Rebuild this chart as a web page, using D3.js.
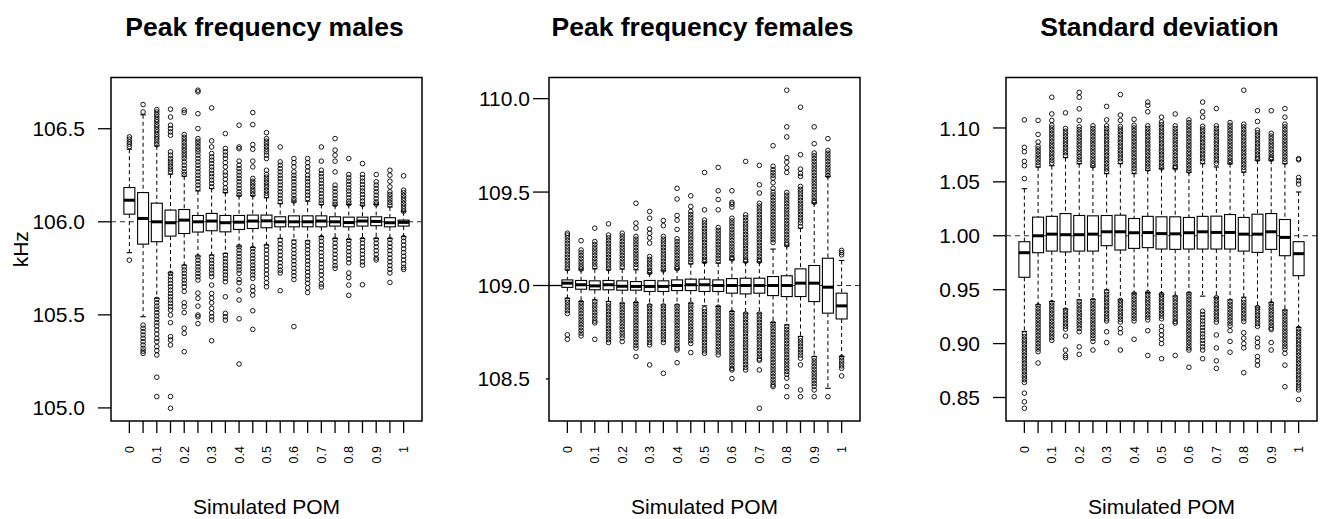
<!DOCTYPE html>
<html>
<head>
<meta charset="utf-8">
<script src="https://cdn.jsdelivr.net/npm/d3@7"></script>
<style>
  body { margin: 0; background: #fff; }
  svg { display: block; font-family: "Liberation Sans", Arial, Helvetica, sans-serif; }
</style>
</head>
<body>
<svg width="1322" height="519"></svg>
<script>
const svg = d3.select("svg");

// x categories (simulated POM), labels only on every second box
const pomLabels = ["0","","0.1","","0.2","","0.3","","0.4","","0.5","","0.6","","0.7","","0.8","","0.9","","1"];

// ---- Peak frequency males (kHz) ----
const malesQ3  = [106.184,106.157,106.10,106.063,106.066,106.034,106.045,106.034,106.034,106.036,106.036,106.027,106.032,106.032,106.032,106.027,106.025,106.025,106.027,106.022,106.009];
const malesMed = [106.116,106.018,106.0,105.995,106.009,106.0,106.004,105.995,105.998,106.004,106.005,106.0,106.0,106.0,106.004,106.0,105.996,106.004,106.002,105.995,105.997];
const malesQ1  = [106.041,105.88,105.893,105.923,105.937,105.945,105.952,105.946,105.959,105.964,105.968,105.973,105.973,105.973,105.973,105.977,105.973,105.977,105.979,105.973,105.977];
const malesHi  = [106.39,106.575,106.408,106.256,106.245,106.166,106.179,106.157,106.14,106.14,106.129,106.098,106.107,106.111,106.093,106.089,106.093,106.089,106.093,106.08,106.054];
const malesLo  = [105.834,105.49,105.589,105.726,105.767,105.816,105.821,105.83,105.869,105.862,105.875,105.911,105.902,105.898,105.92,105.91,105.905,105.91,105.91,105.91,105.92];
const malesOut = [
  [106.456,106.444,106.429,106.417,106.404,105.794],
  [106.63,106.59,105.445,105.428,105.41,105.392,105.374,105.356,105.338,105.32,105.305,105.293],
  [106.603,106.59,106.576,106.563,106.549,106.537,106.522,106.51,106.496,106.483,106.469,106.456,106.444,106.429,106.415,105.583,105.565,105.547,105.53,105.512,105.494,105.476,105.458,105.44,105.419,105.397,105.374,105.356,105.329,105.308,105.284,105.165,105.061],
  [106.605,106.563,106.519,106.501,106.483,106.465,106.376,106.358,106.34,106.326,106.311,106.297,106.283,106.268,105.723,105.705,105.687,105.669,105.651,105.633,105.615,105.597,105.58,105.562,105.544,105.526,105.499,105.458,105.383,105.365,105.338,105.061,104.998],
  [106.6,106.587,106.469,106.454,106.44,106.426,106.411,106.397,106.383,106.369,106.354,106.34,106.322,106.304,106.286,106.268,106.254,105.758,105.741,105.723,105.705,105.687,105.669,105.651,105.626,105.565,105.544,105.512,105.428,105.401,105.302],
  [106.707,106.698,106.581,106.501,106.447,106.433,106.419,106.404,106.39,106.376,106.358,106.34,106.322,106.304,106.286,106.268,106.25,106.233,106.215,106.197,106.179,105.812,105.794,105.776,105.758,105.741,105.723,105.705,105.687,105.617,105.589,105.547,105.499,105.49,105.453],
  [106.612,106.435,106.402,106.367,106.349,106.331,106.313,106.295,106.277,106.259,106.242,106.224,106.206,106.188,105.812,105.794,105.776,105.758,105.741,105.723,105.705,105.66,105.615,105.59,105.565,105.535,105.51,105.49,105.472,105.361],
  [106.474,106.394,106.376,106.358,106.34,106.318,106.295,106.268,106.25,106.229,106.206,106.182,106.165,105.821,105.803,105.785,105.767,105.749,105.732,105.714,105.696,105.678,105.597,105.508,105.49,105.472],
  [106.519,106.402,106.393,106.326,106.304,106.286,106.268,106.25,106.233,106.215,106.197,106.179,106.161,106.145,105.866,105.848,105.83,105.812,105.794,105.776,105.758,105.741,105.723,105.69,105.673,105.633,105.58,105.479,105.236],
  [106.587,106.522,106.415,106.39,106.326,106.295,106.233,106.218,106.204,106.19,106.175,106.161,106.147,105.857,105.839,105.821,105.803,105.785,105.767,105.749,105.732,105.714,105.696,105.651,105.63,105.606,105.522,105.422],
  [106.479,106.447,106.433,106.419,106.404,106.39,106.376,106.358,106.34,106.277,106.254,106.24,106.225,106.211,106.197,106.183,106.168,106.154,106.14,105.869,105.848,105.826,105.805,105.784,105.762,105.741,105.719,105.696,105.673,105.651],
  [106.402,106.322,106.304,106.286,106.268,106.25,106.233,106.215,106.197,106.179,106.161,106.143,106.125,106.107,105.90,105.88,105.86,105.84,105.82,105.80,105.78,105.76,105.74,105.725,105.63],
  [106.34,106.318,106.295,106.268,106.25,106.233,106.215,106.197,106.179,106.161,106.143,106.125,106.112,105.89,105.87,105.85,105.83,105.81,105.79,105.77,105.75,105.73,105.71,105.69,105.437],
  [106.34,106.318,106.295,106.273,106.25,106.233,106.215,106.197,106.179,106.161,106.143,106.125,105.89,105.87,105.85,105.83,105.81,105.79,105.77,105.75,105.73,105.71,105.69,105.67,105.645,105.62],
  [106.402,106.326,106.277,106.259,106.242,106.224,106.206,106.188,106.17,106.152,106.134,106.116,106.1,105.915,105.895,105.875,105.855,105.835,105.815,105.795,105.775,105.755,105.735,105.715,105.69,105.665,105.65],
  [106.447,106.385,106.358,106.326,106.268,106.197,106.179,106.161,106.143,106.125,106.107,106.093,105.905,105.885,105.865,105.845,105.825,105.805,105.785,105.765,105.75],
  [106.34,106.254,106.236,106.218,106.2,106.182,106.165,106.147,106.129,106.111,106.097,105.90,105.88,105.86,105.84,105.82,105.80,105.78,105.725,105.70,105.66,105.605],
  [106.313,106.254,106.236,106.218,106.2,106.182,106.165,106.147,106.129,106.111,106.093,105.905,105.885,105.865,105.845,105.825,105.805,105.785,105.767,105.662],
  [106.254,106.215,106.197,106.179,106.161,106.143,106.125,106.107,106.095,105.905,105.885,105.865,105.845,105.825,105.805,105.795],
  [106.277,106.25,106.218,106.188,106.161,106.147,106.133,106.118,106.104,106.09,105.905,105.885,105.865,105.845,105.825,105.805,105.785,105.765,105.745,105.725,105.674],
  [106.247,106.17,106.156,106.141,106.127,106.113,106.098,106.084,106.07,106.057,105.915,105.895,105.875,105.855,105.835,105.815,105.795,105.775,105.755,105.744]
];

// ---- Peak frequency females (kHz) ----
const femQ3  = [109.03,109.027,109.025,109.027,109.025,109.021,109.027,109.025,109.03,109.034,109.034,109.03,109.037,109.039,109.039,109.048,109.052,109.089,109.107,109.146,108.959];
const femMed = [109.0125,109.004,108.998,109.004,108.996,108.995,108.995,108.995,109.0,109.004,109.004,109.0,109.0,109.0,109.0,109.0,109.0,109.0125,109.0125,108.991,108.891];
const femQ1  = [108.99,108.98,108.977,108.977,108.975,108.975,108.968,108.968,108.973,108.973,108.968,108.968,108.959,108.955,108.959,108.946,108.941,108.941,108.914,108.852,108.821];
const femHi  = [109.084,109.084,109.089,109.084,109.088,109.084,109.066,109.079,109.088,109.116,109.123,109.12,109.138,109.125,109.125,109.195,109.212,109.307,109.441,109.584,109.134];
const femLo  = [108.932,108.914,108.923,108.914,108.905,108.909,108.896,108.896,108.896,108.905,108.891,108.888,108.861,108.852,108.852,108.802,108.789,108.727,108.62,108.45,108.62];
const femOut = [
  [109.28,109.27,109.255,109.24,109.225,109.21,109.195,109.18,109.165,109.15,109.135,109.12,109.105,109.09,108.923,108.91,108.895,108.88,108.865,108.85,108.736,108.712],
  [109.24,109.19,109.175,109.16,109.145,109.13,109.115,109.10,109.088,108.909,108.895,108.88,108.865,108.85,108.835,108.82,108.805,108.79,108.775,108.76,108.745,108.73],
  [109.307,109.235,109.22,109.205,109.19,109.175,109.16,109.145,109.13,109.115,109.10,108.914,108.9,108.885,108.87,108.855,108.84,108.825,108.81,108.80,108.712],
  [109.33,109.27,109.255,109.24,109.225,109.21,109.195,109.18,109.165,109.15,109.135,109.12,109.105,109.09,108.905,108.89,108.875,108.86,108.845,108.83,108.815,108.80,108.785,108.77,108.755,108.74,108.725,108.71,108.695],
  [109.28,109.265,109.25,109.235,109.22,109.205,109.19,109.175,109.16,109.145,109.13,109.115,109.10,108.90,108.885,108.87,108.855,108.84,108.825,108.81,108.795,108.78,108.765,108.75,108.735,108.72,108.70],
  [109.44,109.334,109.307,109.263,109.248,109.233,109.218,109.203,109.188,109.173,109.158,109.143,109.128,109.113,109.098,108.905,108.89,108.875,108.86,108.845,108.83,108.815,108.80,108.785,108.77,108.755,108.74,108.725,108.71,108.695,108.68,108.665,108.62],
  [109.396,109.36,109.302,109.28,109.255,109.227,109.155,109.14,109.125,109.11,109.095,109.08,109.07,108.891,108.876,108.861,108.846,108.831,108.816,108.80,108.785,108.77,108.755,108.74,108.725,108.71,108.695,108.682,108.575],
  [109.348,109.32,109.263,109.248,109.233,109.218,109.203,109.188,109.173,109.158,109.143,109.128,109.113,109.098,109.083,108.891,108.876,108.861,108.846,108.831,108.816,108.80,108.785,108.77,108.755,108.74,108.725,108.71,108.695,108.53],
  [109.52,109.463,109.375,109.35,109.30,109.25,109.235,109.22,109.205,109.19,109.175,109.16,109.145,109.13,109.115,109.10,109.09,108.89,108.875,108.86,108.845,108.83,108.815,108.80,108.785,108.77,108.755,108.74,108.725,108.71,108.695,108.68,108.665,108.655,108.587],
  [109.48,109.423,109.396,109.38,109.365,109.35,109.335,109.32,109.305,109.29,109.275,109.26,109.245,109.23,109.215,109.2,109.185,109.17,109.155,109.14,109.125,108.9,108.885,108.87,108.855,108.84,108.825,108.81,108.795,108.78,108.765,108.75,108.735,108.72,108.705,108.69,108.641],
  [109.605,109.405,109.35,109.335,109.32,109.305,109.29,109.275,109.26,109.245,109.23,109.215,109.2,109.185,109.17,109.155,109.14,109.128,108.875,108.86,108.845,108.83,108.815,108.80,108.785,108.77,108.755,108.74,108.725,108.71,108.695,108.68,108.665,108.65,108.637],
  [109.632,109.507,109.46,109.405,109.31,109.295,109.28,109.265,109.25,109.235,109.22,109.205,109.19,109.175,109.16,109.145,109.13,108.884,108.869,108.854,108.839,108.824,108.809,108.794,108.779,108.764,108.749,108.734,108.719,108.704,108.689,108.674,108.659,108.644,108.629],
  [109.507,109.445,109.435,109.42,109.36,109.345,109.33,109.315,109.30,109.285,109.27,109.255,109.24,109.225,109.21,109.195,109.18,109.165,109.15,109.142,108.856,108.841,108.826,108.811,108.796,108.781,108.766,108.751,108.736,108.721,108.706,108.691,108.676,108.661,108.646,108.631,108.616,108.601,108.586,108.571,108.556,108.548,108.502],
  [109.664,109.378,109.363,109.348,109.333,109.318,109.303,109.288,109.273,109.258,109.243,109.228,109.213,109.198,109.183,109.168,109.153,109.138,109.13,108.847,108.832,108.817,108.802,108.787,108.772,108.757,108.742,108.727,108.712,108.697,108.682,108.667,108.652,108.637,108.622,108.607,108.592,108.577,108.562,108.548],
  [109.643,109.539,109.495,109.44,109.425,109.41,109.395,109.38,109.365,109.35,109.335,109.32,109.305,109.29,109.275,109.26,109.245,109.23,109.215,109.2,109.185,109.17,109.155,109.14,109.13,108.847,108.832,108.817,108.802,108.787,108.772,108.757,108.742,108.727,108.712,108.697,108.682,108.667,108.652,108.637,108.622,108.607,108.6,108.548,108.343],
  [109.748,109.638,109.62,109.605,109.59,109.575,109.55,109.52,109.50,109.485,109.47,109.455,109.44,109.425,109.41,109.395,109.38,109.365,109.35,109.335,109.32,109.305,109.29,109.275,109.26,109.245,109.23,108.798,108.783,108.768,108.753,108.738,108.723,108.708,108.693,108.678,108.663,108.648,108.633,108.618,108.603,108.588,108.573,108.558,108.543,108.528,108.513,108.498,108.483,108.468,108.459],
  [110.045,109.849,109.795,109.684,109.66,109.63,109.605,109.498,109.483,109.468,109.453,109.438,109.423,109.408,109.393,109.378,109.363,109.348,109.333,109.318,109.303,109.288,109.273,109.258,109.243,109.228,109.218,108.78,108.765,108.75,108.735,108.72,108.705,108.69,108.675,108.66,108.645,108.63,108.615,108.6,108.585,108.57,108.555,108.54,108.525,108.504,108.459,108.405],
  [109.954,109.7,109.623,109.60,109.584,109.53,109.515,109.50,109.485,109.47,109.455,109.44,109.425,109.41,109.395,109.38,109.365,109.35,109.335,109.316,108.718,108.703,108.688,108.673,108.658,108.643,108.628,108.611,108.575,108.441,108.405],
  [109.849,109.759,109.709,109.694,109.679,109.664,109.649,109.634,109.619,109.604,109.589,109.574,109.559,109.544,109.529,109.514,109.499,109.484,109.469,109.454,109.445,108.611,108.596,108.581,108.566,108.551,108.536,108.521,108.506,108.491,108.476,108.461,108.441,108.405],
  [109.786,109.723,109.708,109.693,109.678,109.663,109.648,109.633,109.618,109.603,109.588,108.405],
  [109.188,109.176,109.164,108.616,108.60,108.585,108.57,108.557,108.516]
];

// ---- Standard deviation ----
const sdQ3  = [0.9945,1.0173,1.018,1.0206,1.0188,1.0185,1.0188,1.0191,1.016,1.018,1.0176,1.0176,1.017,1.018,1.0182,1.0197,1.017,1.02,1.0206,1.0151,0.9945];
const sdMed = [0.9843,1.0,1.0015,1.001,1.001,1.0015,1.0037,1.0037,1.0028,1.003,1.002,1.0018,1.0028,1.0037,1.0031,1.0031,1.0015,1.0015,1.0037,0.9985,0.9834];
const sdQ1  = [0.9615,0.9843,0.9858,0.985,0.9858,0.9858,0.9908,0.9868,0.9883,0.989,0.9877,0.9874,0.9877,0.9877,0.9877,0.9877,0.9858,0.9846,0.9874,0.9815,0.963];
const sdHi  = [1.0437,1.0638,1.065,1.0724,1.0668,1.0638,1.0576,1.0668,1.0576,1.0607,1.0622,1.0622,1.059,1.0668,1.0638,1.0668,1.059,1.07,1.07,1.0668,1.0406];
const sdLo  = [0.9113,0.936,0.939,0.932,0.9405,0.941,0.9497,0.9405,0.9467,0.9473,0.946,0.944,0.947,0.944,0.943,0.9405,0.943,0.934,0.938,0.931,0.915];
const sdOut = [
  [1.1075,1.082,1.078,1.069,1.065,1.053,0.909,0.9065,0.904,0.9015,0.899,0.8965,0.894,0.8915,0.889,0.8865,0.884,0.8815,0.879,0.8765,0.874,0.8715,0.869,0.8665,0.864,0.854,0.846,0.840],
  [1.107,1.094,1.087,1.083,1.0805,1.078,1.0755,1.073,1.0705,1.068,1.0655,0.935,0.9325,0.93,0.9275,0.925,0.9225,0.92,0.9175,0.915,0.9125,0.91,0.9075,0.905,0.9025,0.90,0.8975,0.895,0.8925,0.882],
  [1.1285,1.113,1.107,1.1025,1.1,1.0975,1.095,1.0925,1.09,1.0875,1.085,1.0825,1.08,1.0775,1.075,1.0725,1.07,1.0675,0.938,0.9355,0.933,0.9305,0.928,0.9255,0.923,0.9205,0.918,0.9155,0.913,0.9105,0.908,0.9055,0.903],
  [1.114,1.0995,1.097,1.0945,1.092,1.0895,1.087,1.0845,1.082,1.0795,1.077,1.0745,0.931,0.9285,0.926,0.9235,0.921,0.9185,0.916,0.9135,0.907,0.894,0.889,0.887],
  [1.133,1.1285,1.1177,1.107,1.101,1.0985,1.096,1.0935,1.091,1.0885,1.086,1.0835,1.081,1.0785,1.076,1.0735,1.071,1.0685,0.939,0.9365,0.934,0.9315,0.929,0.9265,0.924,0.9215,0.919,0.9165,0.914,0.911,0.897,0.89],
  [1.102,1.0995,1.097,1.0945,1.092,1.0895,1.087,1.0845,1.082,1.0795,1.077,1.0745,1.072,1.0695,1.067,1.065,0.94,0.9375,0.935,0.9325,0.93,0.9275,0.925,0.9225,0.92,0.9175,0.915,0.9125,0.91,0.9075,0.905,0.902,0.894],
  [1.12,1.1075,1.102,1.0995,1.097,1.0945,1.092,1.0895,1.087,1.0845,1.082,1.0795,1.077,1.0745,1.072,1.0695,1.067,1.0645,1.062,1.0595,0.948,0.9455,0.943,0.9405,0.938,0.9355,0.933,0.9305,0.928,0.9255,0.923,0.921,0.911,0.901],
  [1.131,1.112,1.107,1.1015,1.099,1.0965,1.094,1.0915,1.089,1.0865,1.084,1.0815,1.079,1.0765,1.074,1.0715,1.069,0.94,0.9375,0.935,0.9325,0.93,0.9275,0.925,0.9225,0.92,0.914,0.91,0.894],
  [1.108,1.1025,1.1,1.0975,1.095,1.0925,1.09,1.0875,1.085,1.0825,1.08,1.0775,1.075,1.0725,1.07,1.0675,1.065,1.0625,1.06,0.946,0.9435,0.941,0.9385,0.936,0.9335,0.931,0.9285,0.926,0.9235,0.921,0.904],
  [1.124,1.121,1.115,1.102,1.0995,1.097,1.0945,1.092,1.0895,1.087,1.0845,1.082,1.0795,1.077,1.0745,1.072,1.0695,1.067,1.0645,1.062,0.947,0.9445,0.942,0.9395,0.937,0.9345,0.932,0.9295,0.927,0.9245,0.922,0.912,0.889],
  [1.11,1.1055,1.103,1.1005,1.098,1.0955,1.093,1.0905,1.088,1.0855,1.083,1.0805,1.078,1.0755,1.073,1.0705,1.068,1.0655,1.063,0.9455,0.943,0.9405,0.938,0.9355,0.933,0.9305,0.928,0.9255,0.923,0.916,0.912,0.908,0.904,0.90,0.886],
  [1.113,1.102,1.0995,1.097,1.0945,1.092,1.0895,1.087,1.0845,1.082,1.0795,1.077,1.0745,1.072,1.0695,1.067,1.0645,1.063,0.943,0.9405,0.938,0.9355,0.933,0.9305,0.928,0.9255,0.923,0.9205,0.919,0.889],
  [1.1075,1.105,1.1025,1.1,1.0975,1.095,1.0925,1.09,1.0875,1.085,1.0825,1.08,1.0775,1.075,1.0725,1.07,1.0675,1.065,1.0625,1.06,0.946,0.9435,0.941,0.9385,0.936,0.9335,0.931,0.9285,0.926,0.9235,0.921,0.9185,0.916,0.9135,0.911,0.9085,0.906,0.9035,0.901,0.8985,0.896,0.894,0.878],
  [1.124,1.115,1.11,1.1015,1.099,1.0965,1.094,1.0915,1.089,1.0865,1.084,1.0815,1.079,1.0765,1.074,1.0715,1.069,0.93,0.927,0.924,0.921,0.918,0.915,0.912,0.909,0.906,0.903,0.90,0.897,0.894,0.886],
  [1.118,1.102,1.0995,1.097,1.0945,1.092,1.0895,1.087,1.0845,1.082,1.0795,1.077,1.0745,1.072,1.0695,1.067,0.9425,0.94,0.9375,0.935,0.9325,0.93,0.9275,0.925,0.9225,0.92,0.908,0.896,0.884,0.877],
  [1.105,1.1025,1.1,1.0975,1.095,1.0925,1.09,1.0875,1.085,1.0825,1.08,1.0775,1.075,1.0725,1.07,1.068,0.939,0.9365,0.934,0.9315,0.929,0.9265,0.924,0.9215,0.919,0.9165,0.912,0.902,0.892],
  [1.135,1.1035,1.101,1.0985,1.096,1.0935,1.091,1.0885,1.086,1.0835,1.081,1.0785,1.076,1.0735,1.071,1.0685,1.066,1.0635,1.061,0.9405,0.938,0.9355,0.933,0.9305,0.928,0.9255,0.923,0.9205,0.91,0.905,0.9,0.896,0.873],
  [1.116,1.106,1.098,1.0955,1.093,1.0905,1.088,1.0855,1.083,1.0805,1.078,1.0755,1.073,1.071,0.9335,0.931,0.9285,0.926,0.9235,0.921,0.9185,0.916,0.905,0.901,0.897,0.888,0.884,0.880],
  [1.116,1.095,1.0925,1.09,1.0875,1.085,1.0825,1.08,1.0775,1.075,1.0725,1.071,0.937,0.9345,0.932,0.9295,0.927,0.9245,0.922,0.9195,0.917,0.9145,0.913,0.901,0.894],
  [1.118,1.11,1.1035,1.101,1.0985,1.096,1.0935,1.091,1.0885,1.086,1.0835,1.081,1.0785,1.076,1.0735,1.071,1.0685,0.93,0.9275,0.925,0.9225,0.92,0.9175,0.915,0.9125,0.91,0.9075,0.905,0.9025,0.90,0.8975,0.895,0.891,0.88,0.86],
  [1.0715,1.0705,1.054,1.051,1.048,0.914,0.9115,0.909,0.9065,0.904,0.9015,0.899,0.8965,0.894,0.8915,0.889,0.8865,0.884,0.8815,0.879,0.8765,0.874,0.8715,0.869,0.8665,0.864,0.8615,0.859,0.857,0.848]
];

const malesTicks = [105.0, 105.5, 106.0, 106.5];
const femTicks = [108.5, 109.0, 109.5, 110.0];
const sdTicks = [0.85, 0.90, 0.95, 1.00, 1.05, 1.10];

const panels = [
  { title: "Peak frequency males", q1: malesQ1, med: malesMed, q3: malesQ3, lo: malesLo, hi: malesHi, out: malesOut,
    ticks: malesTicks, fmt: d3.format(".1f"), ref: 106, left: 111, right: 422, tickLen: [13,13,13,13], labX: 85, ylab: "kHz" },
  { title: "Peak frequency females", q1: femQ1, med: femMed, q3: femQ3, lo: femLo, hi: femHi, out: femOut,
    ticks: femTicks, fmt: d3.format(".1f"), ref: 109, left: 549, right: 860, tickLen: [3,16,16,16], labX: 530, solidRef: true },
  { title: "Standard deviation", q1: sdQ1, med: sdMed, q3: sdQ3, lo: sdLo, hi: sdHi, out: sdOut,
    ticks: sdTicks, fmt: d3.format(".2f"), ref: 1.0, left: 1006, right: 1317, tickLen: [13,13,13,13,13,13], labX: 980 }
];

const plotTop = 77.5, plotBottom = 421;

panels.forEach(p => {
  const g = svg.append("g");
  const n = p.med.length;
  const idx = d3.range(1, n + 1);

  // R style: data range extended by 4% on each side
  const all = p.lo.concat(p.hi, p.out.flat());
  const mn = d3.min(all), mx = d3.max(all), pad = (mx - mn) * 0.04;
  const y = d3.scaleLinear().domain([mn - pad, mx + pad]).range([plotBottom, plotTop]);
  const x = d3.scaleLinear().domain([0.5 - n * 0.04, n + 0.5 + n * 0.04]).range([p.left, p.right]);
  const bw = x(0.8) - x(0);

  // reference line
  g.append("line")
    .attr("x1", p.left).attr("x2", p.right)
    .attr("y1", y(p.ref)).attr("y2", y(p.ref))
    .attr("stroke", "#333").attr("stroke-width", 1.1)
    .attr("stroke-dasharray", "5,4");
  if (p.solidRef) {
    g.append("line")
      .attr("x1", p.left).attr("x2", x(1))
      .attr("y1", y(p.ref)).attr("y2", y(p.ref))
      .attr("stroke", "#000").attr("stroke-width", 1.3);
  }

  const box = g.selectAll(".box").data(idx).enter().append("g").attr("class", "box");

  // whiskers
  box.append("line")
    .attr("x1", i => x(i)).attr("x2", i => x(i))
    .attr("y1", i => y(p.hi[i - 1])).attr("y2", i => y(p.q3[i - 1]))
    .attr("stroke", "#000").attr("stroke-width", 1).attr("stroke-dasharray", "4,3");
  box.append("line")
    .attr("x1", i => x(i)).attr("x2", i => x(i))
    .attr("y1", i => y(p.q1[i - 1])).attr("y2", i => y(p.lo[i - 1]))
    .attr("stroke", "#000").attr("stroke-width", 1).attr("stroke-dasharray", "4,3");
  // staples
  [p.hi, p.lo].forEach(arr => {
    box.append("line")
      .attr("x1", i => x(i) - bw / 4).attr("x2", i => x(i) + bw / 4)
      .attr("y1", i => y(arr[i - 1])).attr("y2", i => y(arr[i - 1]))
      .attr("stroke", "#000").attr("stroke-width", 1.1);
  });

  // outliers
  box.selectAll("circle")
    .data(i => p.out[i - 1].map(v => ({ i, v })))
    .enter().append("circle")
    .attr("cx", d => x(d.i)).attr("cy", d => y(d.v))
    .attr("r", 2.3)
    .attr("fill", "none").attr("stroke", "#000").attr("stroke-width", 0.9);

  // boxes
  box.append("rect")
    .attr("x", i => x(i) - bw / 2).attr("width", bw)
    .attr("y", i => y(p.q3[i - 1]))
    .attr("height", i => y(p.q1[i - 1]) - y(p.q3[i - 1]))
    .attr("fill", "#fff").attr("stroke", "#000").attr("stroke-width", 1.1);
  box.append("line")
    .attr("x1", i => x(i) - bw / 2).attr("x2", i => x(i) + bw / 2)
    .attr("y1", i => y(p.med[i - 1])).attr("y2", i => y(p.med[i - 1]))
    .attr("stroke", "#000").attr("stroke-width", 3);

  // frame
  g.append("rect")
    .attr("x", p.left).attr("y", plotTop)
    .attr("width", p.right - p.left).attr("height", plotBottom - plotTop)
    .attr("fill", "none").attr("stroke", "#000").attr("stroke-width", 1.5);

  // y axis
  const yt = g.selectAll(".yt").data(p.ticks).enter().append("g");
  yt.append("line")
    .attr("x1", (d, k) => p.left - p.tickLen[k]).attr("x2", p.left)
    .attr("y1", d => y(d)).attr("y2", d => y(d))
    .attr("stroke", "#000").attr("stroke-width", 1.3);
  yt.append("text")
    .attr("x", p.labX).attr("y", d => y(d))
    .attr("dy", "0.36em").attr("text-anchor", "end")
    .attr("font-size", 21).text(d => p.fmt(d));

  // x axis
  const xt = g.selectAll(".xt").data(idx).enter().append("g");
  xt.append("line")
    .attr("x1", i => x(i)).attr("x2", i => x(i))
    .attr("y1", plotBottom).attr("y2", plotBottom + 12)
    .attr("stroke", "#000").attr("stroke-width", 1.3);
  xt.append("text")
    .attr("transform", i => `translate(${x(i)},446) rotate(-90)`)
    .attr("dy", "0.36em").attr("text-anchor", "end")
    .attr("font-size", 12.5).text(i => pomLabels[i - 1]);

  const cx = (p.left + p.right) / 2;
  g.append("text")
    .attr("x", cx).attr("y", 514).attr("text-anchor", "middle")
    .attr("font-size", 21).text("Simulated POM");
  g.append("text")
    .attr("x", cx - 2).attr("y", 36).attr("text-anchor", "middle")
    .attr("font-size", 26.5).attr("font-weight", "bold").text(p.title);

  if (p.ylab) {
    g.append("text")
      .attr("transform", `translate(28,${(plotTop + plotBottom) / 2}) rotate(-90)`)
      .attr("text-anchor", "middle").attr("font-size", 21).text(p.ylab);
  }
});
</script>
</body>
</html>
